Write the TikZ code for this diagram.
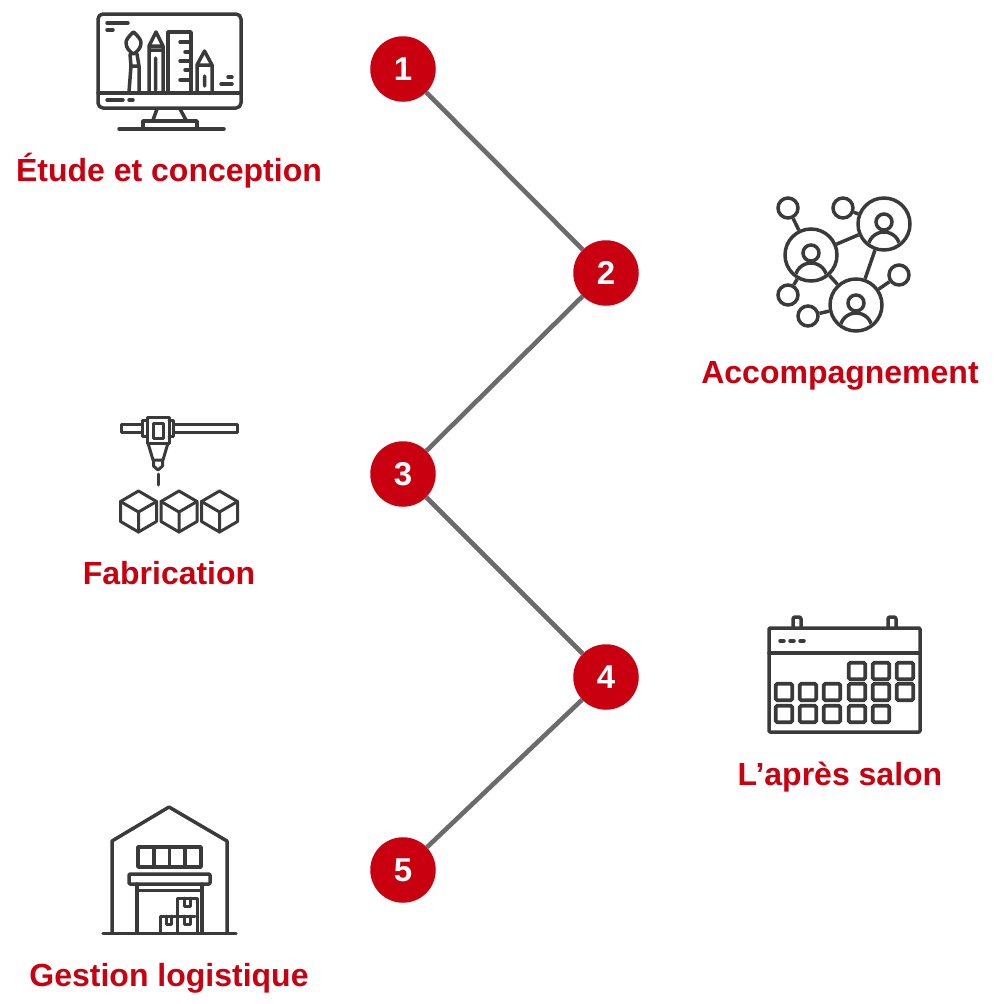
\documentclass[tikz,border=0pt]{standalone}
\usepackage{fontspec}
\setmainfont{Liberation Sans}
\definecolor{brand}{HTML}{C9000F}
\definecolor{ink}{HTML}{3A3A3A}
\definecolor{linkgray}{HTML}{6B6B6B}
\tikzset{
  stepdot/.style={circle,fill=brand,draw=none,minimum size=65.5pt,inner sep=0pt,text=white,font=\bfseries\fontsize{33}{33}\selectfont},
  link/.style={draw=linkgray,line width=4.6pt},
  caption/.style={anchor=base,inner sep=0pt,text=brand,font=\bfseries\fontsize{32}{32}\selectfont},
  icon/.style={draw=ink,line width=3.5pt,line cap=round,line join=round},
  thinicon/.style={draw=ink,line width=3pt,line cap=round,line join=round},
  bignode/.style={circle,draw=ink,line width=3.5pt,minimum size=52pt,inner sep=0pt},
  smallnode/.style={circle,draw=ink,line width=3.5pt,minimum size=20pt,inner sep=0pt},
  wire/.style={draw=ink,line width=3.5pt},
  daybox/.style={draw=ink,line width=3.6pt,rounded corners=1.5pt,minimum size=16.5pt,inner sep=0pt}
}
\begin{document}
\begin{tikzpicture}[x=1pt,y=-1pt]
\useasboundingbox (0,0) rectangle (1000,1004);
% steps
\node[stepdot] (s1) at (403,69) {1};
\node[stepdot] (s2) at (606,273) {2};
\node[stepdot] (s3) at (403,474) {3};
\node[stepdot] (s4) at (606,677) {4};
\node[stepdot] (s5) at (403,870) {5};
\draw[link] (s1) -- (s2);
\draw[link] (s2) -- (s3);
\draw[link] (s3) -- (s4);
\draw[link] (s4) -- (s5);
% captions
\node[caption] (c1) at (169,181) {Étude et conception};
\node[caption] (c2) at (840,383) {Accompagnement};
\node[caption] (c3) at (169,584) {Fabrication};
\node[caption] (c4) at (840,785) {L’après salon};
\node[caption] (c5) at (169,986) {Gestion logistique};
% monitor icon
\draw[icon,rounded corners=5pt] (98,14) rectangle (241,108);
\draw[icon] (98,93) -- (241,93);
\draw[icon] (107,23) -- (128,23) (107,30) -- (113,30) (107,100) -- (123,100) (129,100) -- (133,100);
\draw[icon] (221,84) -- (232,84) (228,77) -- (232,77);
\draw[icon] (157,109) -- (153,120) (180,109) -- (186,120);
\draw[icon] (143,127) -- (143,121) -- (197,121) -- (197,127);
\draw[icon] (119,129) -- (224,129);
\draw[icon] (133.5,32) .. controls (128,37) and (126,40) .. (126,43) .. controls (126,48) and (130,52) .. (133.5,54) .. controls (137,52) and (141,48) .. (141,43) .. controls (141,40) and (139,37) .. (133.5,32) -- cycle;
\draw[icon] (130,54) -- (131,66) -- (129,92) (137,54) -- (139,66) -- (139,92) (131,66) -- (139,66);
\draw[icon] (149,92) -- (149,46) -- (156,32) -- (163,46) -- (163,92) (149,46) -- (163,46) (149,50) -- (163,50) (155.5,58) -- (155.5,90);
\draw[icon] (168,92) -- (168,32) -- (191,32) -- (191,92);
\draw[icon] (180,42) -- (191,42) (185,52) -- (191,52) (180,61) -- (191,61) (185,70) -- (191,70) (180,80) -- (191,80);
\draw[icon] (197,92) -- (197,65) -- (204.5,51) -- (212,65) -- (212,92) (197,65) -- (212,65) (204.5,76) -- (204.5,86);
% network icon
\node[bignode] (pa) at (811,255) {};
\node[bignode] (pb) at (884,224) {};
\node[bignode] (pc) at (856,305) {};
\node[smallnode] (na) at (788,208) {};
\node[smallnode] (nb) at (843,208) {};
\node[smallnode] (nc) at (788,295) {};
\node[smallnode] (nd) at (808,316) {};
\node[smallnode] (ne) at (899,275) {};
\draw[wire] (na) -- (pa);
\draw[wire] (nb) -- (pb);
\draw[wire] (nc) -- (pa);
\draw[wire] (nd) -- (pc);
\draw[wire] (ne) -- (pc);
\draw[wire] (pa) -- (pb);
\draw[wire] (pa) -- (pc);
\draw[wire] (pb) -- (pc);
\foreach \cx/\cy in {811/255,884/224,856/305}{
  \begin{scope}
    \clip (\cx,\cy) circle[radius=24pt];
    \draw[wire] (\cx,\cy+24) circle[radius=16pt];
  \end{scope}
  \draw[wire,fill=white] (\cx,\cy-2) circle[radius=8pt];
}
% printer icon
\draw[thinicon] (142,424) -- (121,424) -- (121,432) -- (142,432);
\draw[thinicon] (174,424) -- (237,424) -- (237,432) -- (174,432);
\draw[thinicon] (147,420) -- (142.5,420) -- (142.5,436) -- (147,436);
\draw[thinicon] (169,420) -- (173.5,420) -- (173.5,436) -- (169,436);
\draw[thinicon] (147,417) rectangle (169,443);
\draw[thinicon] (153.5,423) rectangle (163,438);
\draw[thinicon] (148,443) -- (153,460) -- (163,460) -- (168,443);
\draw[thinicon] (153.5,460) -- (153.5,466) -- (158,470) -- (162.5,466) -- (162.5,460);
\draw[thinicon] (158,474) -- (158,485);
\foreach \c in {138.5,179,219.5}{
  \draw[thinicon] (\c,491) -- (\c+18,501.5) -- (\c+18,521.5) -- (\c,532) -- (\c-18,521.5) -- (\c-18,501.5) -- cycle;
  \draw[thinicon] (\c-18,501.5) -- (\c,512) -- (\c+18,501.5) (\c,512) -- (\c,532);
}
% calendar icon
\draw[icon,rounded corners=1pt] (769,628) rectangle (920,732);
\draw[icon] (769,653) -- (920,653);
\draw[icon,rounded corners=2pt] (793,628) -- (793,617) -- (801,617) -- (801,628);
\draw[icon,rounded corners=2pt] (888,628) -- (888,617) -- (896,617) -- (896,628);
\draw[icon] (780,641) -- (784,641) (790,641) -- (794,641) (800,641) -- (804,641);
\foreach \x/\y [count=\i] in {857/671,881/671,905/671,784/692,808/692,832/692,857/692,881/692,905/692,784/714,808/714,832/714,857/714,881/714}{
  \node[daybox] (d\i) at (\x,\y) {};
}
% warehouse icon
\draw[icon] (103,933.5) -- (236,933.5);
\draw[icon] (112,933) -- (112,841) -- (169,807) -- (227,841) -- (227,933);
\draw[icon] (138,847) rectangle (201,867);
\draw[icon] (154,847) -- (154,867) (169.5,847) -- (169.5,867) (185,847) -- (185,867);
\draw[icon,rounded corners=1pt] (129,874) rectangle (210,884);
\draw[icon] (137,884) -- (137,933) (202,884) -- (202,933) (137,890.5) -- (202,890.5);
\draw[thinicon] (160,933) -- (160,916) -- (177,916) (177,933) -- (177,898) -- (197,898) -- (197,933) (177,916) -- (195,916);
\draw[thinicon] (184,898) -- (184,906) -- (190,906) -- (190,898);
\draw[thinicon] (166,916) -- (166,924) -- (171,924) -- (171,916);
\draw[thinicon] (184,916) -- (184,924) -- (190,924) -- (190,916);
\end{tikzpicture}
\end{document}
